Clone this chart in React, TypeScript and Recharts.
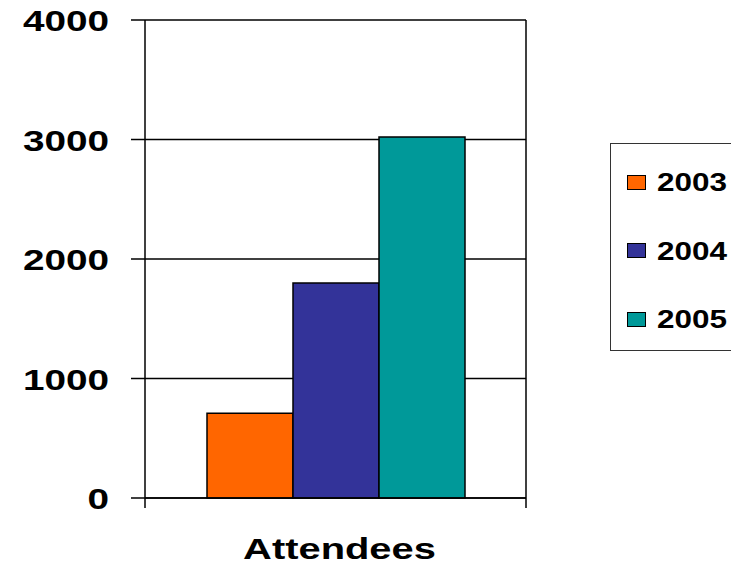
import { BarChart, Bar, CartesianGrid, XAxis, YAxis } from 'recharts';

const categories = ['Attendees'];
const years = ['2003', '2004', '2005'];
const attendees = [710, 1800, 3020];
const colors = ['#FF6600', '#333399', '#009999'];
const yTicks = [0, 1000, 2000, 3000, 4000];

const data = categories.map((name) => {
  const row: Record<string, string | number> = { name };
  years.forEach((y, i) => {
    row['y' + y] = attendees[i];
  });
  return row;
});

const font = '"Liberation Sans", Arial, sans-serif';

function YTick(props: any) {
  const { x, y, payload } = props;
  return (
    <text
      transform={`translate(${x},${y + 11}) scale(1.29,1)`}
      textAnchor="end"
      fontFamily={font}
      fontWeight="bold"
      fontSize={30}
      fill="#000"
    >
      {payload.value}
    </text>
  );
}

function XTick(props: any) {
  const { x, y, payload } = props;
  const half = payload.offset || 0;
  return (
    <g>
      <line x1={x - half} x2={x - half} y1={y} y2={y + 10} stroke="#000" strokeWidth={1.5} />
      <line x1={x + half} x2={x + half} y1={y} y2={y + 10} stroke="#000" strokeWidth={1.5} />
      <text
        transform={`translate(${x + 4},${y + 61}) scale(1.33,1)`}
        textAnchor="middle"
        fontFamily={font}
        fontWeight="bold"
        fontSize={30}
        fill="#000"
      >
        {payload.value}
      </text>
    </g>
  );
}

export default function App() {
  return (
    <div style={page}>
      <BarChart
        width={731}
        height={564}
        data={data}
        margin={{ top: 20, right: 205, bottom: 0, left: 0 }}
        barCategoryGap={62}
        barGap={0}
      >
        <CartesianGrid
          stroke="#000"
          strokeWidth={1.5}
          verticalCoordinatesGenerator={({ offset }: any) => [offset.left + offset.width]}
        />
        <XAxis
          dataKey="name"
          height={66}
          axisLine={{ stroke: '#000', strokeWidth: 1.5 }}
          tickLine={false}
          tickSize={0}
          tickMargin={0}
          tick={<XTick />}
        />
        <YAxis
          width={145}
          domain={[0, 4000]}
          ticks={yTicks}
          axisLine={{ stroke: '#000', strokeWidth: 1.5 }}
          tickLine={{ stroke: '#000', strokeWidth: 1.5 }}
          tickSize={14}
          tickMargin={22}
          tick={<YTick />}
        />
        {years.map((y, i) => (
          <Bar
            key={y}
            dataKey={'y' + y}
            name={y}
            fill={colors[i]}
            stroke="#000"
            strokeWidth={1.5}
            isAnimationActive={false}
          />
        ))}
      </BarChart>

      <div style={legendBox}>
        {years.map((y, i) => (
          <div key={y} style={{ ...legendRow, top: 27 + i * 68.7 }}>
            <span style={{ ...swatch, background: colors[i] }} />
            <span style={legendText}>{y}</span>
          </div>
        ))}
      </div>
    </div>
  );
}

const page = {
  position: 'absolute' as const,
  left: 0,
  top: 0,
  width: 731,
  height: 564,
  overflow: 'hidden',
  background: '#fff'
};

const legendBox = {
  position: 'absolute' as const,
  left: 610,
  top: 143,
  width: 140,
  height: 208,
  border: '1px solid #333',
  boxSizing: 'border-box' as const
};

const legendRow = {
  position: 'absolute' as const,
  left: 16,
  height: 22,
  display: 'flex',
  alignItems: 'center'
};

const swatch = {
  display: 'inline-block',
  width: 17,
  height: 13,
  border: '1px solid #000'
};

const legendText = {
  display: 'inline-block',
  marginLeft: 11,
  fontFamily: font,
  fontWeight: 'bold' as const,
  fontSize: 26,
  lineHeight: '22px',
  transform: 'scaleX(1.21)',
  transformOrigin: 'left center'
};
